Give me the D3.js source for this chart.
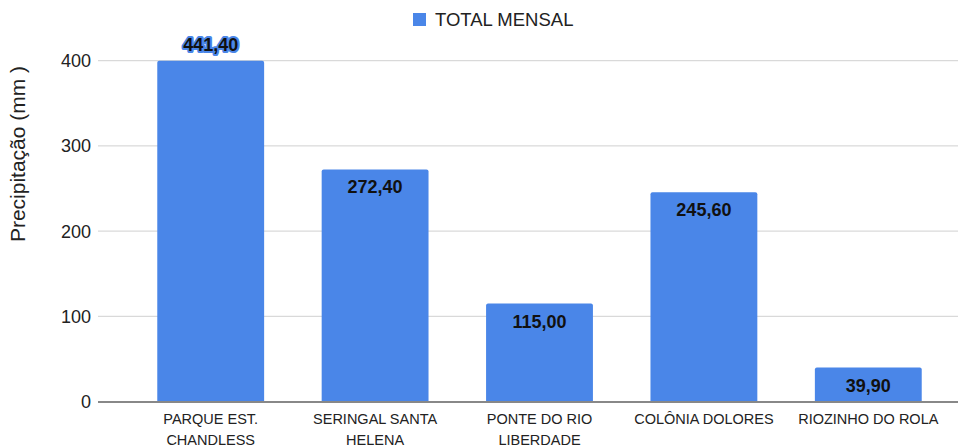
<!DOCTYPE html>
<html><head><meta charset="utf-8">
<script src="https://cdn.jsdelivr.net/npm/d3@7"></script>
<style>body{margin:0;background:#fff}text{font-family:"Liberation Sans",Arial,sans-serif}</style>
</head><body>
<svg id="c" width="972" height="446"></svg>
<script>
const categories = [["PARQUE EST.","CHANDLESS"],["SERINGAL SANTA","HELENA"],["PONTE DO RIO","LIBERDADE"],["COLÔNIA DOLORES"],["RIOZINHO DO ROLA"]];
const values = [441.40, 272.40, 115.00, 245.60, 39.90];
const labels = ["441,40","272,40","115,00","245,60","39,90"];
const yTicks = [0,100,200,300,400];
const seriesName = "TOTAL MENSAL";

const svg = d3.select("#c");
const color = "#4a86e8";
const x = d3.scaleBand().domain(d3.range(values.length)).range([128.5, 950.5]).paddingInner(0.35).paddingOuter(0.175);
const y = d3.scaleLinear().domain([0,400]).range([401.5,60.7]).clamp(true);

// gridlines
svg.append("g").selectAll("line").data(yTicks.filter(d=>d>0)).join("line")
  .attr("x1",98).attr("x2",958).attr("y1",d=>y(d)).attr("y2",d=>y(d))
  .attr("stroke","#d0d0d0").attr("stroke-width",1);

// y tick labels
svg.append("g").selectAll("text").data(yTicks).join("text")
  .attr("x",91).attr("y",d=>y(d)+6.5).attr("text-anchor","end")
  .attr("font-size",18).attr("fill","#222").text(d=>d);

// bars
const bw = x.bandwidth();
svg.append("g").selectAll("path").data(values).join("path")
  .attr("fill",color)
  .attr("d",(d,i)=>{
    const x0=x(i), x1=x0+bw, yt=y(d), yb=y(0), r=2;
    return `M${x0},${yb}V${yt+r}Q${x0},${yt} ${x0+r},${yt}H${x1-r}Q${x1},${yt} ${x1},${yt+r}V${yb}Z`;
  });

// zero line
svg.append("line").attr("x1",98).attr("x2",958).attr("y1",y(0)+0.5).attr("y2",y(0)+0.5)
  .attr("stroke","#888").attr("stroke-width",2);

// value labels
svg.append("g").selectAll("text").data(values).join("text")
  .attr("x",(d,i)=>x(i)+bw/2)
  .attr("y",d=> d>400 ? 50.5 : y(d)+24)
  .attr("text-anchor","middle").attr("font-size",18).attr("font-weight","bold")
  .attr("fill","#111")
  .attr("stroke",d=>d>400?color:"none").attr("stroke-width",d=>d>400?4:0)
  .attr("stroke-linejoin","round").attr("paint-order","stroke")
  .text((d,i)=>labels[i]);

// category labels
const cat = svg.append("g").selectAll("text").data(categories).join("text")
  .attr("x",(d,i)=>x(i)+bw/2).attr("y",423.5)
  .attr("text-anchor","middle").attr("font-size",14.5).attr("fill","#222");
cat.selectAll("tspan").data(d=>d).join("tspan")
  .attr("x",function(){return this.parentNode.getAttribute("x");})
  .attr("dy",(d,i)=>i===0?0:21).text(d=>d);

// y axis title
svg.append("text").attr("transform","translate(25,154) rotate(-90)")
  .attr("text-anchor","middle").attr("font-size",21).attr("fill","#222")
  .text("Precipitação (mm )");

// legend
svg.append("rect").attr("x",413).attr("y",13).attr("width",13).attr("height",13).attr("fill",color);
svg.append("text").attr("x",435).attr("y",25.7).attr("font-size",18.5).attr("fill","#222").text(seriesName);
</script>
</body></html>
